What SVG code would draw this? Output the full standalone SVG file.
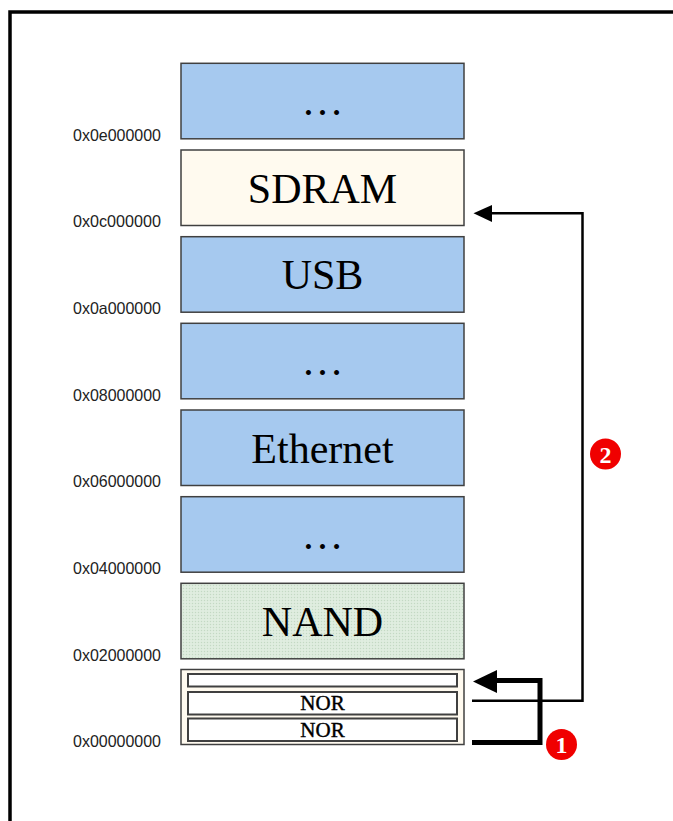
<svg xmlns="http://www.w3.org/2000/svg" width="673" height="821" viewBox="0 0 673 821">
<style>
.box{stroke:#404040;stroke-width:1.5}
.blue{fill:#a6c9ef}
.big{font-family:"Liberation Serif","Times New Roman",serif;font-size:42px;fill:#000;text-anchor:middle}
.nor{font-family:"Liberation Serif","Times New Roman",serif;font-size:21px;fill:#000;stroke:#000;stroke-width:0.4;text-anchor:middle}
.addr{font-family:"Liberation Sans",Arial,sans-serif;font-size:16.5px;fill:#222}
.inner{fill:#fff;stroke:#404040;stroke-width:2}
.num{font-family:"Liberation Serif","Times New Roman",serif;font-weight:bold;font-size:24px;fill:#fff;text-anchor:middle}
</style>
<defs>
<pattern id="dots" width="3" height="3" patternUnits="userSpaceOnUse">
<rect width="3" height="3" fill="#dcebdc"/>
<rect x="0" y="0" width="1" height="1" fill="#c4d8c4"/>
<rect x="1.5" y="1.5" width="1" height="1" fill="#eef6ee"/>
</pattern>
</defs>
<rect width="673" height="821" fill="#fff"/>
<path d="M10,821 V12 H673" fill="none" stroke="#000" stroke-width="3.5" stroke-linejoin="miter"/>

<g id="node-top">
<rect class="box blue" x="181" y="63.3" width="283" height="75.5"/>
<text class="big" x="322.5" y="115.3">…</text>
<text class="addr" x="73" y="140.5" textLength="88" lengthAdjust="spacingAndGlyphs">0x0e000000</text>
</g>
<g id="node-sdram">
<rect class="box" fill="#fffaef" x="181" y="150" width="283" height="75.5"/>
<text class="big" x="322.5" y="202.5">SDRAM</text>
<text class="addr" x="73" y="227.2" textLength="88" lengthAdjust="spacingAndGlyphs">0x0c000000</text>
</g>
<g id="node-usb">
<rect class="box blue" x="181" y="236.7" width="283" height="75.5"/>
<text class="big" x="322.5" y="289.2">USB</text>
<text class="addr" x="73" y="313.9" textLength="88" lengthAdjust="spacingAndGlyphs">0x0a000000</text>
</g>
<g id="node-mid">
<rect class="box blue" x="181" y="323.3" width="283" height="75.5"/>
<text class="big" x="322.5" y="375.3">…</text>
<text class="addr" x="73" y="400.5" textLength="88" lengthAdjust="spacingAndGlyphs">0x08000000</text>
</g>
<g id="node-ethernet">
<rect class="box blue" x="181" y="410" width="283" height="75.5"/>
<text class="big" x="322.5" y="462.5">Ethernet</text>
<text class="addr" x="73" y="487.2" textLength="88" lengthAdjust="spacingAndGlyphs">0x06000000</text>
</g>
<g id="node-low">
<rect class="box blue" x="181" y="496.7" width="283" height="75.5"/>
<text class="big" x="322.5" y="548.7">…</text>
<text class="addr" x="73" y="573.9" textLength="88" lengthAdjust="spacingAndGlyphs">0x04000000</text>
</g>
<g id="node-nand">
<rect class="box" fill="url(#dots)" x="181" y="583.3" width="283" height="75.5"/>
<text class="big" x="322.5" y="635.8">NAND</text>
<text class="addr" x="73" y="660.5" textLength="88" lengthAdjust="spacingAndGlyphs">0x02000000</text>
</g>
<g id="node-nor">
<rect class="box" fill="#fffaef" x="181" y="669.5" width="283" height="75"/>
<rect class="inner" x="188" y="674" width="269" height="12.5"/>
<rect class="inner" x="188" y="692" width="269" height="22.5"/>
<rect class="inner" x="188" y="718.5" width="269" height="22.5"/>
<text class="nor" x="322.5" y="710">NOR</text>
<text class="nor" x="322.5" y="736.5">NOR</text>
<text class="addr" x="73" y="746.5" textLength="88" lengthAdjust="spacingAndGlyphs">0x00000000</text>
</g>

<g id="connectors">
<path d="M472,700.7 H582.5 V213.3 H490" fill="none" stroke="#000" stroke-width="2.5"/>
<polygon points="473.5,213.3 492,205 492,222" fill="#000"/>
<path d="M472,742.5 H540 V680.5 H494" fill="none" stroke="#000" stroke-width="5"/>
<polygon points="473,681.5 497,670 497,693" fill="#000"/>
</g>

<g id="badge-1">
<circle cx="561.5" cy="744.5" r="15.5" fill="#f00000"/>
<text class="num" x="561.5" y="753">1</text>
</g>
<g id="badge-2">
<circle cx="605.5" cy="454" r="15.5" fill="#f00000"/>
<text class="num" x="605.5" y="462.5">2</text>
</g>
</svg>
